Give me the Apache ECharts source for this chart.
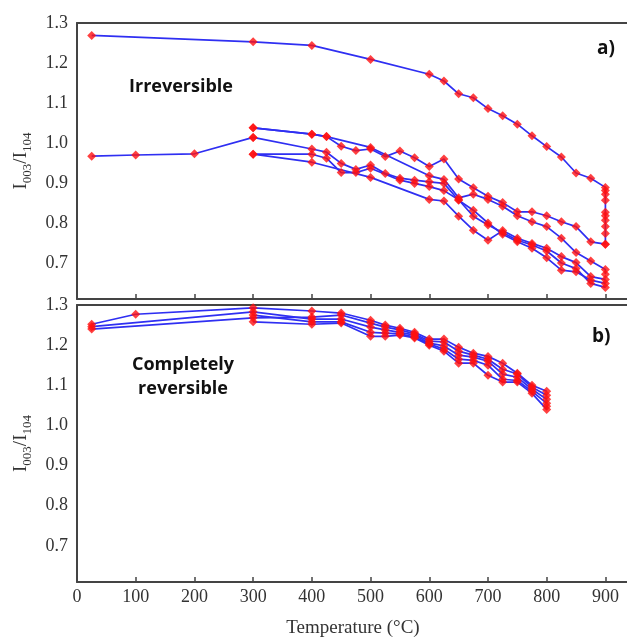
<!DOCTYPE html>
<html>
<head>
<meta charset="utf-8">
<script src="https://cdn.jsdelivr.net/npm/echarts@6/dist/echarts.min.js"></script>
<style>html,body{margin:0;padding:0;background:#fff}#c{width:627px;height:639px}</style>
</head>
<body>
<div id="c"></div>
<script>
// ---- Data (Temperature °C, I003/I104) ----
const xTicks = [0, 100, 200, 300, 400, 500, 600, 700, 800, 900];
const yTicks = [0.7, 0.8, 0.9, 1.0, 1.1, 1.2, 1.3];

// Panel a) Irreversible
const aHeat = [[25,1.269],[300,1.253],[400,1.244],[500,1.209],[600,1.172],[625,1.155],[650,1.123],[675,1.113],[700,1.086],[725,1.068],[750,1.047],[775,1.018],[800,0.991],[825,0.965],[850,0.925],[875,0.912],[900,0.889],[900,0.881],[900,0.872],[900,0.857],[900,0.827],[900,0.818],[900,0.807],[900,0.791],[900,0.774],[900,0.747]];
const aCool1 = [[900,0.747],[875,0.753],[850,0.791],[825,0.803],[800,0.818],[775,0.828],[750,0.828],[725,0.851],[700,0.867],[675,0.888],[650,0.910],[625,0.960],[600,0.941],[575,0.963],[550,0.980],[525,0.966],[500,0.985],[475,0.981],[450,0.992],[425,1.016],[400,1.022],[300,1.038]];
const aCycle2 = [[300,1.038],[400,1.022],[425,1.016],[500,0.989],[600,0.918],[625,0.909],[650,0.863],[675,0.872],[700,0.859],[725,0.842],[750,0.818],[775,0.803],[800,0.791],[825,0.762],[850,0.726],[875,0.705],[900,0.684],[900,0.672]];
const aCycle3 = [[300,1.014],[400,0.985],[425,0.977],[450,0.949],[475,0.934],[500,0.945],[525,0.924],[550,0.912],[575,0.907],[600,0.903],[625,0.899],[650,0.857],[675,0.832],[700,0.800],[725,0.772],[750,0.753],[775,0.737],[800,0.713],[825,0.682],[850,0.678],[875,0.657],[900,0.649]];
const aCycle4 = [[300,0.972],[400,0.972],[425,0.962],[450,0.926],[475,0.926],[500,0.937],[550,0.907],[575,0.899],[600,0.891],[625,0.881],[650,0.858],[675,0.817],[700,0.795],[725,0.776],[750,0.757],[775,0.745],[800,0.730],[825,0.700],[850,0.686],[875,0.649],[900,0.639]];
const aCycle5 = [[300,0.972],[400,0.952],[500,0.914],[600,0.859],[625,0.855],[650,0.817],[675,0.782],[700,0.757],[725,0.781],[750,0.762],[775,0.749],[800,0.737],[825,0.716],[850,0.701],[875,0.666],[900,0.659]];
const aLow = [[25,0.967],[100,0.970],[200,0.973],[300,1.014]];

// Panel b) Completely reversible
const bCycle1 = [[25,1.252],[100,1.277],[300,1.293],[400,1.285],[450,1.280],[500,1.262],[525,1.250],[550,1.242],[575,1.232],[600,1.215],[625,1.215],[650,1.195],[675,1.180],[700,1.172],[725,1.155],[750,1.130],[775,1.100],[800,1.085]];
const bCycle2 = [[25,1.240],[300,1.268],[400,1.270],[450,1.275],[500,1.255],[525,1.245],[550,1.238],[575,1.228],[600,1.210],[625,1.208],[650,1.185],[675,1.175],[700,1.165],[725,1.140],[750,1.128],[775,1.095],[800,1.075]];
const bCycle3 = [[25,1.246],[300,1.283],[400,1.265],[450,1.265],[500,1.245],[525,1.238],[550,1.232],[575,1.225],[600,1.205],[625,1.198],[650,1.175],[675,1.170],[700,1.160],[725,1.128],[750,1.120],[775,1.090],[800,1.065]];
const bCycle4 = [[300,1.275],[400,1.258],[450,1.258],[500,1.232],[525,1.230],[550,1.228],[575,1.220],[600,1.203],[625,1.190],[650,1.165],[675,1.162],[700,1.150],[725,1.115],[750,1.112],[775,1.085],[800,1.055]];
const bCycle5 = [[300,1.258],[400,1.252],[450,1.255],[500,1.222],[525,1.222],[550,1.225],[575,1.218],[600,1.200],[625,1.185],[650,1.155],[675,1.155],[700,1.125],[725,1.108],[750,1.108],[775,1.080],[800,1.040],[800,1.048]];

const panelA = [aHeat, aCool1, aCycle2, aCycle3, aCycle4, aCycle5, aLow];
const panelB = [bCycle1, bCycle2, bCycle3, bCycle4, bCycle5];

// ---- Chart ----
const LINE = '#2f2ff2';
const MARK = '#ff1010';
const FRAME = { show: true, lineStyle: { color: '#444', width: 2 } };
const SERIF = '"Liberation Serif", "DejaVu Serif", serif';
const SANS = '"Open Sans", "Noto Sans", sans-serif';

function xAxisCfg(gridIndex, showLabels) {
  return {
    type: 'value', gridIndex, min: 0, max: 947, position: 'bottom',
    axisLine: FRAME,
    axisTick: { show: true, inside: true, length: 5, customValues: xTicks, lineStyle: { color: '#444', width: 1.5 } },
    axisLabel: { show: showLabels, customValues: xTicks, fontFamily: SERIF, fontSize: 18, color: '#333', margin: 6 },
    splitLine: { show: false }
  };
}
function xTopCfg(gridIndex) {
  return {
    type: 'value', gridIndex, min: 0, max: 947, position: 'top',
    axisLine: FRAME, axisTick: { show: false }, axisLabel: { show: false }, splitLine: { show: false }
  };
}
function yAxisCfg(gridIndex) {
  return {
    type: 'value', gridIndex, min: 0.61, max: 1.3,
    axisLine: FRAME,
    axisTick: { show: false },
    axisLabel: { customValues: yTicks, formatter: v => v.toFixed(1), fontFamily: SERIF, fontSize: 18, color: '#333', margin: 9 },
    splitLine: { show: false },
    name: '{m|I}{s|003}{m|/I}{s|104}',
    nameLocation: 'middle', nameGap: 43, nameRotate: 90,
    nameTextStyle: {
      rich: {
        m: { fontFamily: SERIF, fontSize: 19, color: '#333', lineHeight: 26, verticalAlign: 'middle' },
        s: { fontFamily: SERIF, fontSize: 13, color: '#333', lineHeight: 13, verticalAlign: 'bottom' }
      }
    }
  };
}

const series = [];
function addPanel(list, xIdx, yIdx) {
  list.forEach(d => {
    series.push({ type: 'line', xAxisIndex: xIdx, yAxisIndex: yIdx, data: d, showSymbol: false,
      lineStyle: { color: LINE, width: 1.7 }, silent: true, animation: false, z: 2 });
  });
  list.forEach(d => {
    series.push({ type: 'scatter', xAxisIndex: xIdx, yAxisIndex: yIdx, data: d, symbol: 'diamond', symbolSize: 9,
      itemStyle: { color: MARK }, silent: true, animation: false, z: 3 });
  });
}
addPanel(panelA, 0, 0);
addPanel(panelB, 2, 1);

const chart = echarts.init(document.getElementById('c'), null, { renderer: 'canvas' });
chart.setOption({
  animation: false,
  backgroundColor: '#fff',
  grid: [
    { left: 77, top: 23, width: 556, height: 276, show: false, containLabel: false, outerBoundsMode: 'none' },
    { left: 77, top: 305, width: 556, height: 277, show: false, containLabel: false, outerBoundsMode: 'none' }
  ],
  xAxis: [xAxisCfg(0, false), xTopCfg(0), xAxisCfg(1, true), xTopCfg(1)],
  yAxis: [yAxisCfg(0), yAxisCfg(1)],
  series,
  graphic: [
    { type: 'text', left: 129, top: 78, style: { text: 'Irreversible', font: 'bold 18px ' + SANS, fill: '#111' } },
    { type: 'text', left: 597, top: 39, style: { text: 'a)', font: 'bold 19px ' + SANS, fill: '#111' } },
    { type: 'text', x: 183, y: 353, style: { text: 'Completely\nreversible', font: 'bold 18px ' + SANS, fill: '#111', align: 'center', lineHeight: 24 } },
    { type: 'text', left: 592, top: 327, style: { text: 'b)', font: 'bold 19px ' + SANS, fill: '#111' } },
    { type: 'text', x: 353, y: 628, style: { text: 'Temperature (°C)', font: '19px ' + SERIF, fill: '#333', align: 'center', verticalAlign: 'middle' } }
  ]
});
</script>
</body>
</html>
